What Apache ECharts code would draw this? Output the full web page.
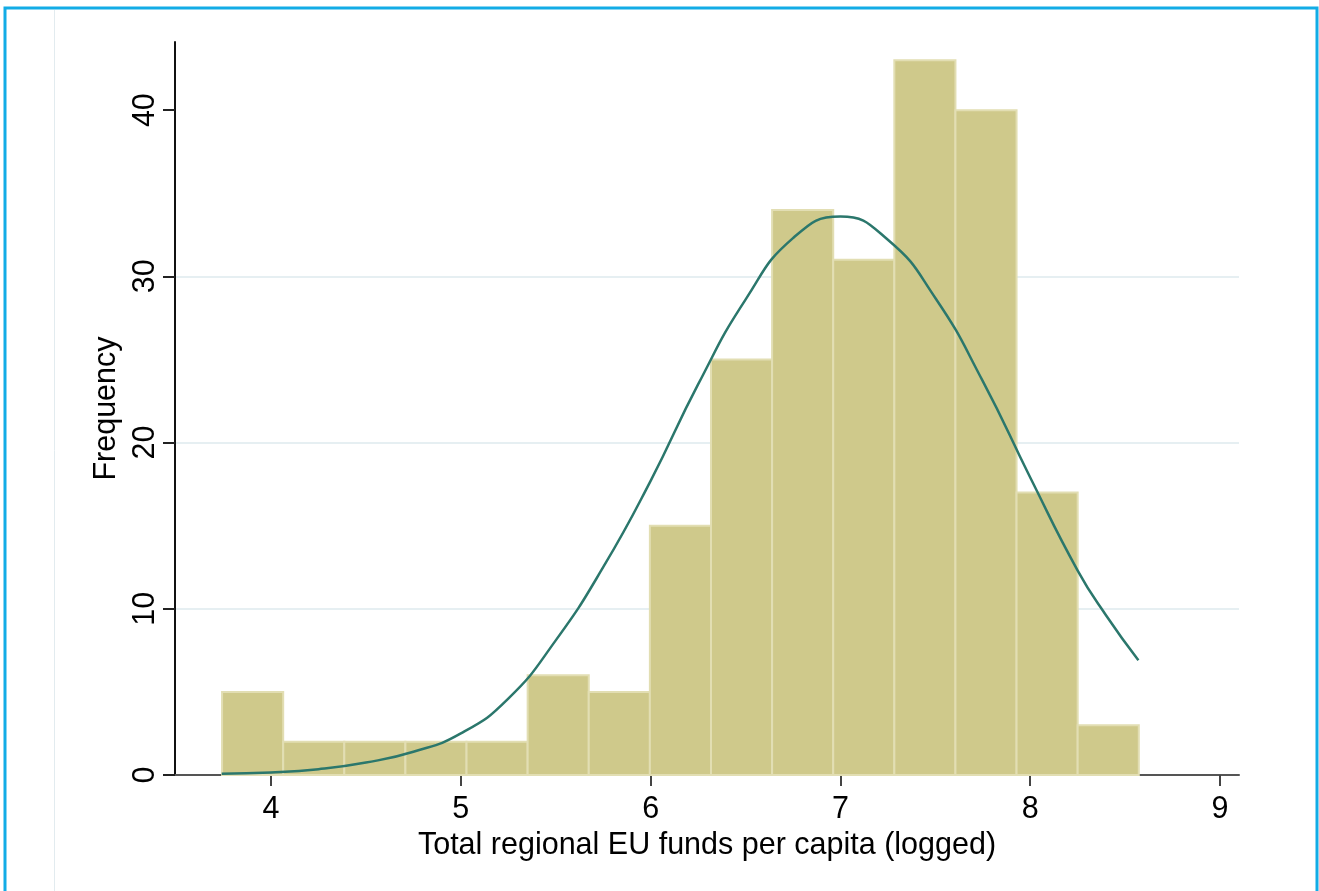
<!DOCTYPE html>
<html>
<head>
<meta charset="utf-8">
<script src="https://cdn.jsdelivr.net/npm/echarts@6/dist/echarts.min.js"></script>
<style>
  html, body { margin: 0; padding: 0; background: #ffffff; }
  #chart { width: 1319px; height: 891px; }
</style>
</head>
<body>
<div id="chart"></div>
<script>
// Histogram bin edges (logged EU funds per capita) and counts per bin
const binEdges = [3.742, 4.064, 4.386, 4.708, 5.030, 5.352, 5.674, 5.996,
                  6.318, 6.640, 6.962, 7.284, 7.606, 7.928, 8.250, 8.572];
const binCounts = [5, 2, 2, 2, 2, 6, 5, 15, 25, 34, 31, 43, 40, 17, 3];

// Fitted normal density, scaled to frequency
const curveX = [3.74, 4.00, 4.25, 4.50, 4.75, 5.00, 5.25, 5.50, 5.75, 6.00,
                6.25, 6.50, 6.75, 7.00, 7.25, 7.50, 7.75, 8.00, 8.25, 8.40, 8.57];
const curveY = [0.08, 0.15, 0.35, 0.75, 1.4, 2.5, 4.6, 8.1, 12.5, 17.7,
                23.5, 28.6, 32.3, 33.6, 32.2, 28.7, 23.7, 17.9, 12.3, 9.6, 6.9];

// Axis ticks
const xTicks = [4, 5, 6, 7, 8, 9];
const yTicks = [0, 10, 20, 30, 40];

const barData = binCounts.map((c, i) => [binEdges[i], binEdges[i + 1], c]);
const curveData = curveX.map((x, i) => [x, curveY[i]]);

const FONT = '"Liberation Sans", Arial, sans-serif';
const FS = 30.5;

const chart = echarts.init(document.getElementById('chart'), null, { renderer: 'canvas' });

chart.setOption({
  backgroundColor: '#ffffff',
  animation: false,
  graphic: [
    {
      type: 'rect',
      shape: { x: 5, y: 8, width: 1312, height: 900 },
      style: { fill: 'none', stroke: '#12ace6', lineWidth: 3 },
      z: 100
    },
    {
      type: 'line',
      shape: { x1: 54.5, y1: 10, x2: 54.5, y2: 891 },
      style: { stroke: '#e2ebef', lineWidth: 1 },
      z: 100
    }
  ],
  grid: { left: 175, right: 80, top: 42, bottom: 116, containLabel: false },
  xAxis: {
    type: 'value',
    min: 3.494,
    max: 9.1,
    name: 'Total regional EU funds per capita (logged)',
    nameLocation: 'middle',
    nameGap: 53,
    nameTextStyle: { fontFamily: FONT, fontSize: FS, color: '#000' },
    axisLine: { show: true, onZero: false, lineStyle: { color: '#555555', width: 2 } },
    axisTick: { show: true, length: 11, customValues: xTicks, lineStyle: { color: '#444', width: 2 } },
    axisLabel: { customValues: xTicks, margin: 19, fontFamily: FONT, fontSize: FS, color: '#000' },
    splitLine: { show: false }
  },
  yAxis: {
    type: 'value',
    min: 0,
    max: 44.1,
    interval: 10,
    name: 'Frequency',
    nameLocation: 'middle',
    nameGap: 40,
    nameRotate: 90,
    nameTextStyle: { fontFamily: FONT, fontSize: FS, color: '#000' },
    axisLine: { show: true, lineStyle: { color: '#111111', width: 2 } },
    axisTick: { show: true, length: 12, customValues: yTicks, lineStyle: { color: '#222', width: 2 } },
    axisLabel: { customValues: yTicks, rotate: 90, margin: 14, fontFamily: FONT, fontSize: FS, color: '#000' },
    splitLine: { show: true, showMinLine: false, showMaxLine: false, lineStyle: { color: '#e6eff2', width: 2 } }
  },
  series: [
    {
      type: 'custom',
      name: 'Frequency',
      data: barData,
      encode: { x: [0, 1], y: 2 },
      renderItem: function (params, api) {
        const p0 = api.coord([api.value(0), 0]);
        const p1 = api.coord([api.value(1), api.value(2)]);
        return {
          type: 'rect',
          shape: { x: p0[0], y: p1[1], width: p1[0] - p0[0], height: p0[1] - p1[1] },
          style: { fill: '#cfc98b', stroke: '#e2deb3', lineWidth: 2 }
        };
      },
      z: 2
    },
    {
      type: 'line',
      name: 'Normal density',
      data: curveData,
      smooth: true,
      showSymbol: false,
      lineStyle: { color: '#2b776c', width: 2.5 },
      z: 3
    }
  ]
});
</script>
</body>
</html>
